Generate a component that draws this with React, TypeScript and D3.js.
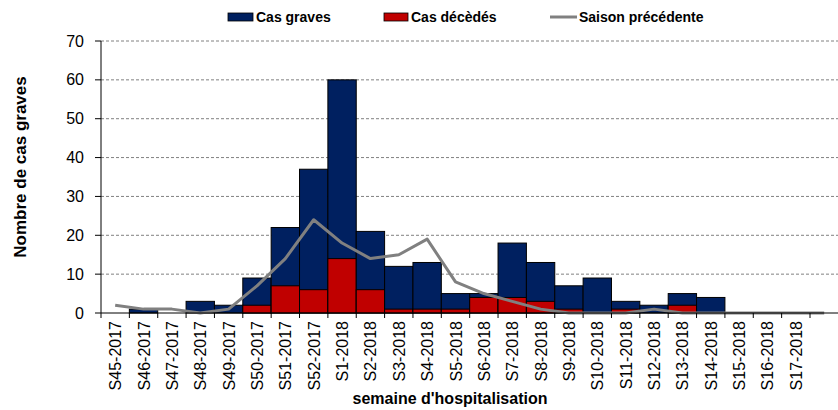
import * as d3 from "d3";

const weeks = [
  "S45-2017", "S46-2017", "S47-2017", "S48-2017", "S49-2017", "S50-2017",
  "S51-2017", "S52-2017", "S1-2018", "S2-2018", "S3-2018", "S4-2018",
  "S5-2018", "S6-2018", "S7-2018", "S8-2018", "S9-2018", "S10-2018",
  "S11-2018", "S12-2018", "S13-2018", "S14-2018", "S15-2018", "S16-2018",
  "S17-2018", "",
];
const casGraves = [0, 1, 0, 3, 2, 9, 22, 37, 60, 21, 12, 13, 5, 5, 18, 13, 7, 9, 3, 2, 5, 4, 0, 0, 0, 0];
const casDeces = [0, 0, 0, 0, 0, 2, 7, 6, 14, 6, 1, 1, 1, 4, 4, 3, 1, 0, 1, 0, 2, 0, 0, 0, 0, 0];
const saisonPrec = [2, 1, 1, 0, 1, 7, 14, 24, 18, 14, 15, 19, 8, 5, 3, 1, 0, 0, 0, 1, 0, 0, 0, 0, 0, 0];
const yTicks = [0, 10, 20, 30, 40, 50, 60, 70];

const BLUE = "#002060";
const RED = "#c00000";
const GREY = "#808080";
const FONT = "'Liberation Sans', Arial, sans-serif";

export default function App() {
  const width = 838;
  const height = 410;
  const margin = { top: 41, left: 101 };
  const innerHeight = 272;
  const band = 28.36;
  const innerWidth = band * weeks.length;

  const x = d3.scaleBand<string>()
    .domain(weeks.map((w, i) => `${i}`))
    .range([0, innerWidth])
    .padding(0);
  const y = d3.scaleLinear().domain([0, 70]).range([innerHeight, 0]);

  const line = d3
    .line<number>()
    .x((_, i) => (x(`${i}`) ?? 0) + x.bandwidth() / 2)
    .y((d) => y(d));

  return (
    <svg
      width={width}
      height={height}
      style={{ position: "absolute", left: 0, top: 0, display: "block" }}
      fontFamily={FONT}
    >
      {/* legend */}
      <g fontWeight="bold" fontSize="14" fill="#000">
        <rect x={228} y={13} width={25} height={8} fill={BLUE} stroke="#000" strokeWidth={0.8} />
        <text x={256} y={22}>Cas graves</text>
        <rect x={384} y={13} width={24} height={8} fill={RED} stroke="#000" strokeWidth={0.8} />
        <text x={411} y={22}>Cas décèdés</text>
        <line x1={550} x2={577} y1={17} y2={17} stroke={GREY} strokeWidth={3} />
        <text x={579} y={22}>Saison précédente</text>
      </g>

      <g transform={`translate(${margin.left},${margin.top})`}>
        {yTicks.map((t) => (
          <g key={t}>
            {t > 0 && (
              <line
                x1={0}
                x2={innerWidth}
                y1={y(t)}
                y2={y(t)}
                stroke={GREY}
                strokeWidth={1}
                strokeDasharray="3 2"
              />
            )}
            <line x1={-6} x2={0} y1={y(t)} y2={y(t)} stroke="#000" />
            <text x={-17} y={y(t) + 5.5} fontSize="16" textAnchor="end" fill="#000">
              {t}
            </text>
          </g>
        ))}

        {weeks.map((w, i) => {
          const x0 = x(`${i}`) ?? 0;
          const total = casGraves[i];
          const dead = casDeces[i];
          return (
            <g key={`bar-${i}`}>
              {total > 0 && (
                <rect
                  x={x0}
                  y={y(total)}
                  width={x.bandwidth()}
                  height={y(0) - y(total)}
                  fill={BLUE}
                  stroke="#000"
                  strokeWidth={1}
                />
              )}
              {dead > 0 && (
                <rect
                  x={x0}
                  y={y(dead)}
                  width={x.bandwidth()}
                  height={y(0) - y(dead)}
                  fill={RED}
                  stroke="#000"
                  strokeWidth={1}
                />
              )}
            </g>
          );
        })}

        <path
          d={line(saisonPrec) ?? ""}
          fill="none"
          stroke={GREY}
          strokeWidth={3}
          strokeLinejoin="round"
        />

        <line x1={0} x2={0} y1={0} y2={innerHeight} stroke="#000" />
        <line x1={0} x2={innerWidth} y1={innerHeight} y2={innerHeight} stroke="#000" />
        {weeks.map((w, i) => {
          const x0 = x(`${i}`) ?? 0;
          const cx = x0 + x.bandwidth() / 2;
          return (
            <g key={`tick-${i}`}>
              <line x1={x0} x2={x0} y1={innerHeight} y2={innerHeight + 5} stroke="#000" />
              <text
                transform={`translate(${cx + 6},${innerHeight + 8}) rotate(-90)`}
                fontSize="16"
                textAnchor="end"
                fill="#000"
              >
                {w}
              </text>
            </g>
          );
        })}
      </g>

      <text x={450} y={404} fontSize="16" fontWeight="bold" textAnchor="middle">
        semaine d'hospitalisation
      </text>
      <text
        transform={`translate(26,167) rotate(-90)`}
        fontSize="17"
        fontWeight="bold"
        textAnchor="middle"
      >
        Nombre de cas graves
      </text>
    </svg>
  );
}
